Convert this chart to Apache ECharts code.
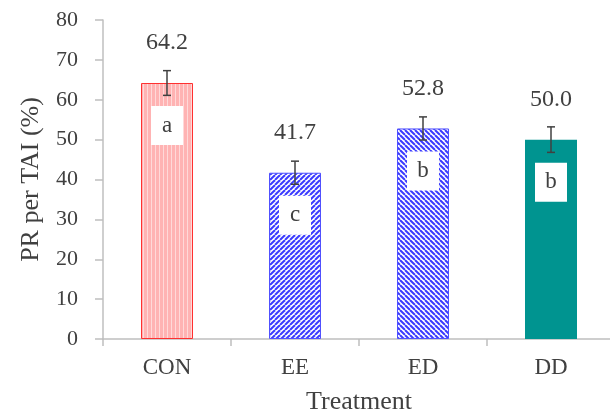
<!DOCTYPE html>
<html>
<head>
<meta charset="utf-8">
<script src="https://cdn.jsdelivr.net/npm/echarts@6/dist/echarts.min.js"></script>
<style>html,body{margin:0;padding:0;background:#fff;}#c{width:610px;height:412px;}</style>
</head>
<body>
<div id="c"></div>
<script>
const categories = ['CON', 'EE', 'ED', 'DD'];
const values = [64.2, 41.7, 52.8, 50.0];
const errors = [3.1, 2.9, 2.9, 3.2];
const letters = ['a', 'c', 'b', 'b'];
const yTicks = [0, 10, 20, 30, 40, 50, 60, 70, 80];

function vertPattern() {
  const c = document.createElement('canvas');
  c.width = 4; c.height = 4;
  const g = c.getContext('2d');
  g.fillStyle = '#ffb3b3'; g.fillRect(0, 0, 4, 4);
  g.fillStyle = '#ffd9d9'; g.fillRect(3, 0, 1, 4);
  return c;
}
function diagPattern(dir) {
  const p = 5;
  const c = document.createElement('canvas');
  c.width = p; c.height = p;
  const g = c.getContext('2d');
  g.fillStyle = '#ffffff'; g.fillRect(0, 0, p, p);
  g.strokeStyle = '#3a3aff'; g.lineWidth = 2;
  for (let k = -1; k <= 1; k++) {
    g.beginPath();
    if (dir > 0) { g.moveTo(k * p, p); g.lineTo(k * p + p, 0); }
    else { g.moveTo(k * p, 0); g.lineTo(k * p + p, p); }
    g.stroke();
  }
  return c;
}

const styles = [
  { color: { image: vertPattern(), repeat: 'repeat' }, borderColor: '#ff3030', borderWidth: 1 },
  { color: { image: diagPattern(1), repeat: 'repeat' }, borderColor: '#5050ff', borderWidth: 1 },
  { color: { image: diagPattern(-1), repeat: 'repeat' }, borderColor: '#5050ff', borderWidth: 1 },
  { color: '#009490', borderColor: '#009490', borderWidth: 0 }
];

const font = 'Liberation Serif';
const txt = '#404040';

const chart = echarts.init(document.getElementById('c'), null, { renderer: 'canvas' });
chart.setOption({
  animation: false,
  grid: { left: 103, top: 20, bottom: 73, width: 512, containLabel: false, outerBoundsMode: 'none' },
  xAxis: {
    type: 'category',
    data: categories,
    boundaryGap: true,
    name: 'Treatment',
    nameLocation: 'middle',
    nameGap: 50,
    nameTextStyle: { fontFamily: font, fontSize: 26, color: txt },
    axisLine: { lineStyle: { color: '#bfbfbf', width: 1.5 } },
    axisTick: { show: true, length: 7, lineStyle: { color: '#bfbfbf', width: 1.5 } },
    axisLabel: { fontFamily: font, fontSize: 23, color: txt, margin: 17 }
  },
  yAxis: {
    type: 'value',
    min: yTicks[0],
    max: yTicks[yTicks.length - 1],
    interval: 10,
    name: 'PR per TAI (%)',
    nameLocation: 'middle',
    nameGap: 59,
    nameTextStyle: { fontFamily: font, fontSize: 26, color: txt },
    axisLine: { show: true, lineStyle: { color: '#bfbfbf', width: 1.5 } },
    axisTick: { show: true, length: 8, lineStyle: { color: '#bfbfbf', width: 1.5 } },
    axisLabel: { fontFamily: font, fontSize: 22, color: txt, margin: 25 },
    splitLine: { show: false }
  },
  series: [
    {
      type: 'bar',
      barWidth: 52,
      data: values.map((v, i) => ({ value: v, itemStyle: styles[i] })),
      label: {
        show: true,
        position: ['50%', 23],
        formatter: p => letters[p.dataIndex],
        backgroundColor: '#ffffff',
        width: 32,
        height: 39,
        lineHeight: 39,
        align: 'center',
        verticalAlign: 'top',
        fontFamily: font,
        fontSize: 23,
        color: txt
      },
      z: 2
    },
    {
      type: 'bar',
      barWidth: 52,
      barGap: '-100%',
      data: values,
      itemStyle: { color: 'rgba(0,0,0,0)' },
      label: {
        show: true,
        position: 'top',
        distance: 28,
        formatter: p => p.value.toFixed(1),
        fontFamily: font,
        fontSize: 24,
        color: txt
      },
      silent: true,
      z: 1
    },
    {
      type: 'custom',
      data: values.map((v, i) => [i, v - errors[i], v + errors[i]]),
      renderItem: function (params, api) {
        const lo = api.coord([api.value(0), api.value(1)]);
        const hi = api.coord([api.value(0), api.value(2)]);
        const w = 4;
        const st = { stroke: '#404040', lineWidth: 1.5 };
        return {
          type: 'group',
          children: [
            { type: 'line', shape: { x1: hi[0], y1: hi[1], x2: lo[0], y2: lo[1] }, style: st },
            { type: 'line', shape: { x1: hi[0] - w, y1: hi[1], x2: hi[0] + w, y2: hi[1] }, style: st },
            { type: 'line', shape: { x1: lo[0] - w, y1: lo[1], x2: lo[0] + w, y2: lo[1] }, style: st }
          ]
        };
      },
      z: 5
    }
  ]
});
</script>
</body>
</html>
